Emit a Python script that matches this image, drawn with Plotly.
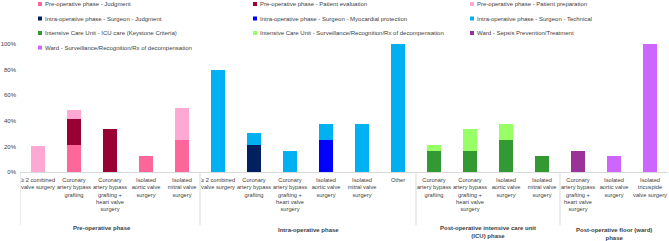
import plotly.graph_objects as go

# ---------------- data ----------------
group_names = [
    "Pre-operative phase",
    "Intra-operative phase",
    "Post-operative intensive care unit<br>(ICU) phase",
    "Post-operative floor (ward)<br>phase",
]
group_sizes = [5, 6, 4, 3]
categories = [
    "≥ 2 combined<br>valve surgery",
    "Coronary<br>artery bypass<br>grafting",
    "Coronary<br>artery bypass<br>grafting +<br>heart valve<br>surgery",
    "Isolated<br>aortic valve<br>surgery",
    "Isolated<br>mitral valve<br>surgery",
    "≥ 2 combined<br>valve surgery",
    "Coronary<br>artery bypass<br>grafting",
    "Coronary<br>artery bypass<br>grafting +<br>heart valve<br>surgery",
    "Isolated<br>aortic valve<br>surgery",
    "Isolated<br>mitral valve<br>surgery",
    "Other",
    "Coronary<br>artery bypass<br>grafting",
    "Coronary<br>artery bypass<br>grafting +<br>heart valve<br>surgery",
    "Isolated<br>aortic valve<br>surgery",
    "Isolated<br>mitral valve<br>surgery",
    "Coronary<br>artery bypass<br>grafting +<br>heart valve<br>surgery",
    "Isolated<br>aortic valve<br>surgery",
    "Isolated<br>tricuspide<br>valve surgery",
]

N = None
pre_judgment      = [N, 20.8, N, 12.5, 25.0] + [N] * 13
pre_evaluation    = [N, 20.8, 33.3, N, N] + [N] * 13
pre_preparation   = [20.0, 6.5, N, N, 25.0] + [N] * 13
intra_judgment    = [N] * 5 + [N, 20.8, N, N, N, N] + [N] * 7
intra_myocardial  = [N] * 5 + [N, N, N, 25.0, N, N] + [N] * 7
intra_technical   = [N] * 5 + [80.0, 10.0, 16.7, 12.5, 37.5, 100.0] + [N] * 7
icu_care          = [N] * 11 + [16.7, 16.7, 25.0, 12.5] + [N] * 3
icu_surveillance  = [N] * 11 + [4.2, 16.7, 12.5, N] + [N] * 3
ward_sepsis       = [N] * 15 + [16.7, N, N]
ward_surveillance = [N] * 15 + [N, 12.5, 100.0]

series_names = [
    "Pre-operative phase - Judgment",
    "Pre-operative phase - Patient evaluation",
    "Pre-operative phase - Patient preparation",
    "Intra-operative phase - Surgeon - Judgment",
    "Intra-operative phase - Surgeon - Myocardial protection",
    "Intra-operative phase - Surgeon - Technical",
    "Intensive Care Unit - ICU care (Keystone Criteria)",
    "Intensive Care Unit - Surveillance/Recognition/Rx of decompensation",
    "Ward - Sepsis Prevention/Treatment",
    "Ward - Surveillance/Recognition/Rx of decompensation",
]
series_values = [
    pre_judgment, pre_evaluation, pre_preparation,
    intra_judgment, intra_myocardial, intra_technical,
    icu_care, icu_surveillance, ward_sepsis, ward_surveillance,
]
series_colors = [
    "#FF6699", "#990033", "#FFA8D4",
    "#002060", "#0000FF", "#00B0F0",
    "#339933", "#99FF66", "#993399", "#CC66FF",
]

y_ticks = [0, 20, 40, 60, 80, 100]
y_ticklabels = ["0%", "20%", "40%", "60%", "80%", "100%"]

# ---------------- figure ----------------
W, H = 669, 241
ML, MR, MT, MB = 20, 1, 44, 69
PW, PH = W - ML - MR, H - MT - MB
FONT = "Liberation Sans, Arial, sans-serif"
TXT = "#404040"
GRID = "#D9D9D9"
FS = 6.0
FS_CAT = 5.7

xpos = list(range(len(categories)))

fig = go.Figure()
for name, vals, col in zip(series_names, series_values, series_colors):
    fig.add_trace(go.Bar(
        x=xpos, y=vals, name=name,
        marker=dict(color=col, line=dict(width=0)),
        width=0.41, showlegend=False,
    ))

def px_x(px):
    return (px - ML) / PW

def px_y(py):
    return (H - MB - py) / PH

annotations, shapes = [], []

# legend (3 columns, compact rows)
col_x = [40, 255, 472]
row_y = [4, 18.5, 33, 47.6]
for i, (name, col) in enumerate(zip(series_names, series_colors)):
    r, c = divmod(i, 3)
    mx, my = col_x[c], row_y[r]
    shapes.append(dict(type="rect", xref="paper", yref="paper",
                       x0=px_x(mx - 2), x1=px_x(mx + 2),
                       y0=px_y(my + 2), y1=px_y(my - 2),
                       fillcolor=col, line=dict(width=0)))
    annotations.append(dict(text=name, xref="paper", yref="paper",
                            x=px_x(mx + 3), y=px_y(my), xanchor="left",
                            yanchor="middle", showarrow=False,
                            font=dict(family=FONT, size=FS, color=TXT)))

# group labels and dividers
group_label_y = [228, 230, 232, 233.5]
group_xshift = [-8, 0, 0, 0]
start = 0
for gname, gsize, gy, gxs in zip(group_names, group_sizes, group_label_y, group_xshift):
    shapes.append(dict(type="line", xref="x", yref="paper",
                       x0=start - 0.5, x1=start - 0.5,
                       y0=0, y1=px_y(225),
                       line=dict(color=GRID, width=1)))
    annotations.append(dict(text=f"<b>{gname}</b>", xref="x", yref="paper",
                            x=start + (gsize - 1) / 2, y=px_y(gy),
                            xshift=gxs, xanchor="center", yanchor="middle",
                            showarrow=False, align="center",
                            font=dict(family=FONT, size=FS, color=TXT)))
    start += gsize

fig.update_layout(
    width=W, height=H,
    margin=dict(l=ML, r=MR, t=MT, b=MB, pad=0),
    paper_bgcolor="white", plot_bgcolor="white",
    barmode="stack",
    font=dict(family=FONT, size=FS, color=TXT),
    annotations=annotations, shapes=shapes,
    showlegend=False,
)
fig.update_xaxes(
    tickmode="array", tickvals=xpos, ticktext=categories,
    tickangle=0, automargin=False, range=[-0.5, len(categories) - 0.5],
    showline=True, linecolor=GRID, linewidth=1,
    ticks="", showgrid=False, zeroline=False, ticklabelstandoff=2,
    tickfont=dict(family=FONT, size=FS_CAT, color=TXT),
)
fig.update_yaxes(
    range=[0, 100], tickvals=y_ticks, ticktext=y_ticklabels, automargin=False,
    showgrid=False, showline=False, zeroline=False, ticks="",
    ticklabelstandoff=3,
    tickfont=dict(family=FONT, size=FS, color=TXT),
)

fig.write_html("out.html", config={"displayModeBar": False},
               post_script="document.body.style.margin='0px';")
